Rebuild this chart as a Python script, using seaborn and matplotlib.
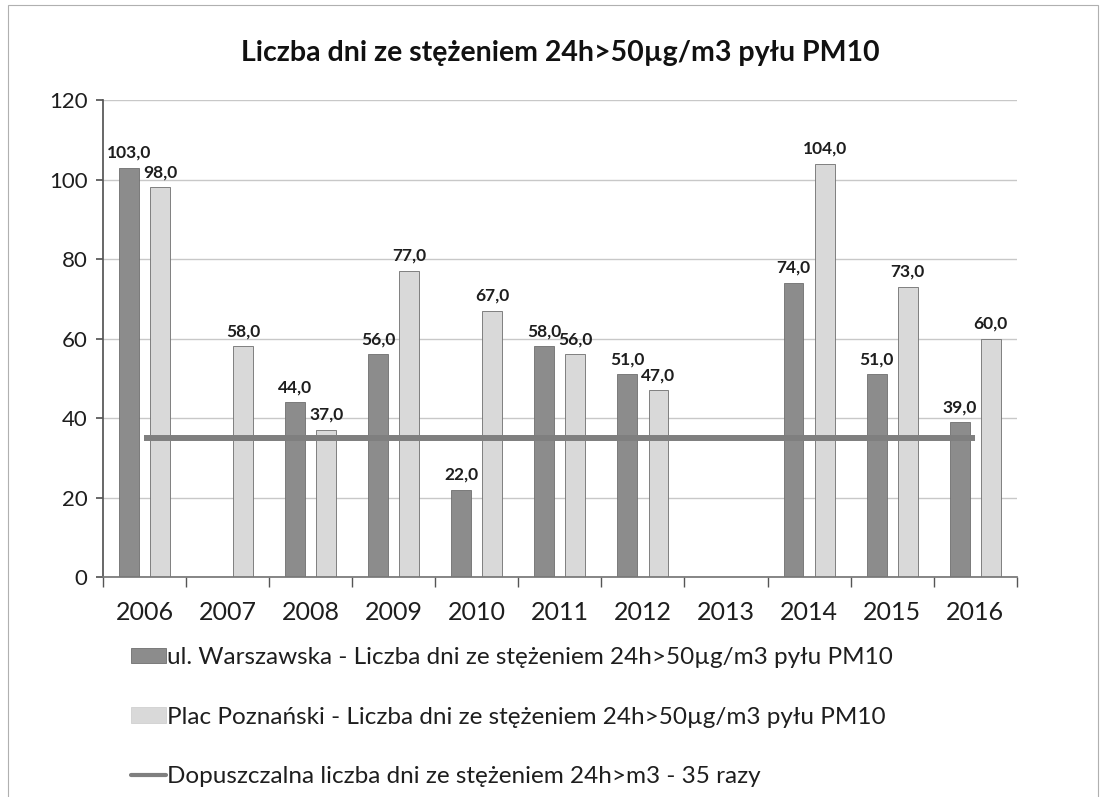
import numpy as np
import pandas as pd
import matplotlib
matplotlib.use("Agg")
import matplotlib.pyplot as plt
from matplotlib.patches import Patch, Rectangle
from matplotlib.lines import Line2D
import seaborn as sns

years = ["2006", "2007", "2008", "2009", "2010", "2011", "2012", "2013", "2014", "2015", "2016"]
warszawska = [103, np.nan, 44, 56, 22, 58, 51, np.nan, 74, 51, 39]
poznanski = [98, 58, 37, 77, 67, 56, 47, np.nan, 104, 73, 60]
limit_days = 35

name_w = "ul. Warszawska - Liczba dni ze stężeniem 24h>50µg/m3 pyłu PM10"
name_p = "Plac Poznański - Liczba dni ze stężeniem 24h>50µg/m3 pyłu PM10"
name_l = "Dopuszczalna liczba dni ze stężeniem 24h>m3 - 35 razy"
title = "Liczba dni ze stężeniem 24h>50µg/m3 pyłu PM10"

df = pd.DataFrame({
    "rok": years * 2,
    "stacja": [name_w] * len(years) + [name_p] * len(years),
    "dni": warszawska + poznanski,
})

sns.set_theme(style="white")
plt.rcParams["font.family"] = ["Lato", "DejaVu Sans"]

dark = "#8c8c8c"
light = "#d9d9d9"
line_col = "#7f7f7f"
text_col = "#1e1e1e"

fig = plt.figure(figsize=(11.01, 7.97), dpi=100)
ax = fig.add_axes([0.0935, 0.276, 0.830, 0.5985])

sns.barplot(data=df.dropna(), x="rok", y="dni", hue="stacja", order=years,
            hue_order=[name_w, name_p], palette=[dark, light],
            width=0.75, gap=0.36, errorbar=None, legend=False, ax=ax,
            edgecolor="#6e6e6e", linewidth=0.6)

for cont in ax.containers:
    ax.bar_label(cont, fmt=lambda v: f"{v:.1f}".replace(".", ","), padding=5,
                 fontsize=12.5, fontweight="bold", color=text_col)

ax.plot([0, len(years) - 1], [limit_days, limit_days], color=line_col,
        linewidth=4.3, solid_capstyle="butt", zorder=5)

ax.set_ylim(0, 120)
ax.set_xlim(-0.5, len(years) - 0.5)
ax.set_yticks(np.arange(0, 121, 20))
ax.yaxis.grid(True, color="#c8c8c8", linewidth=1.0)
ax.set_axisbelow(True)
ax.set_xlabel("")
ax.set_ylabel("")
for side in ["top", "right"]:
    ax.spines[side].set_visible(False)
ax.spines["left"].set_color("#555555")
ax.spines["bottom"].set_color("#777777")
ax.tick_params(axis="y", labelsize=16, length=5, color="#555555", left=True, pad=6, labelcolor=text_col)
ax.tick_params(axis="x", labelsize=18, length=0, pad=17, labelcolor=text_col)
# category separator ticks below the axis
ax.set_xticks(np.arange(-0.5, len(years), 1.0), minor=True)
ax.tick_params(axis="x", which="minor", length=7, direction="out", color="#555555", bottom=True)

ax.set_title(title, fontsize=20.5, fontweight="bold", pad=28, color="#111111")

handles = [
    Patch(facecolor=dark, edgecolor="#6e6e6e", linewidth=0.6),
    Patch(facecolor=light, edgecolor="#d0d0d0", linewidth=0.6),
    Line2D([0], [0], color=line_col, linewidth=3),
]
fig.legend(handles, [name_w, name_p, name_l], loc="upper left",
           bbox_to_anchor=(0.110, 0.200), frameon=False, fontsize=17.5,
           labelspacing=1.58, handlelength=1.45, handleheight=0.6,
           handletextpad=0.05, borderaxespad=0, labelcolor=text_col)

# thin page frame
fig.patches.append(Rectangle((0.007, -0.01), 0.99, 1.004, transform=fig.transFigure,
                             fill=False, edgecolor="#b0b0b0", linewidth=0.8))

fig.savefig("out.png", dpi=100)
